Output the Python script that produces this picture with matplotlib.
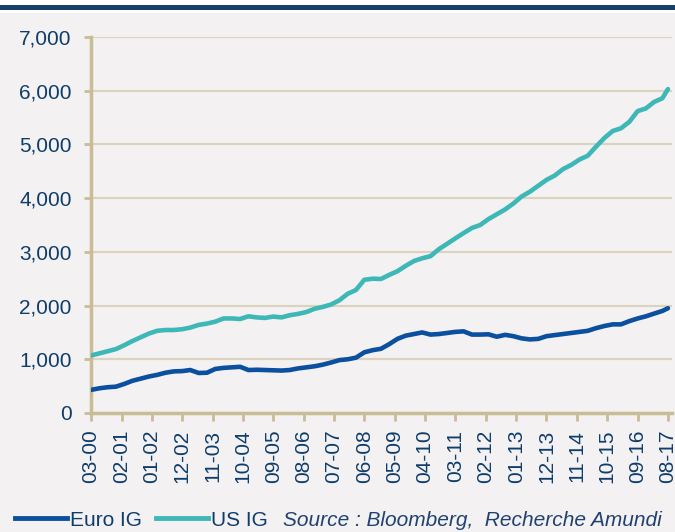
import matplotlib
matplotlib.use('Agg')
import matplotlib.pyplot as plt
from matplotlib.lines import Line2D
from matplotlib.patches import Rectangle
from matplotlib.ticker import FuncFormatter
import pandas as pd

# quarterly observations, last point is 08-2017
dates = list(pd.date_range('2000-03-01', '2017-06-01', freq='3MS')) + [pd.Timestamp('2017-08-01')]

euro_ig = [
    430, 460, 480, 490, 540, 600, 640, 680, 710, 750,
    775, 780, 800, 745, 750, 820, 840, 850, 860, 800,
    805, 800, 795, 790, 800, 830, 850, 870, 900, 940,
    985, 1000, 1030, 1130, 1170, 1195, 1280, 1380, 1440, 1470,
    1500, 1460, 1470, 1490, 1510, 1520, 1460, 1460, 1465, 1420,
    1455, 1430, 1390, 1370, 1380, 1430, 1450, 1470, 1490, 1510,
    1530, 1580, 1620, 1650, 1650, 1710, 1760, 1800, 1850, 1900,
    1950,
]
us_ig = [
    1070, 1110, 1150, 1190, 1260, 1340, 1410, 1480, 1530, 1545,
    1545, 1560, 1590, 1640, 1665, 1700, 1760, 1760, 1750, 1800,
    1780, 1770, 1795, 1780, 1820, 1845, 1880, 1940, 1975, 2020,
    2100, 2220, 2290, 2480, 2500, 2495, 2570, 2640, 2740, 2830,
    2880, 2920, 3050, 3150, 3250, 3350, 3445, 3500, 3610, 3700,
    3790, 3900, 4030, 4120, 4230, 4340, 4420, 4540, 4620, 4720,
    4790, 4960, 5120, 5250, 5300, 5420, 5620, 5670, 5790, 5860,
    6030,
]
tick_dates = pd.date_range('2000-03-01', periods=20, freq='11MS')
tick_labels = [d.strftime('%m-%y') for d in tick_dates]

BG = '#F3F1F1'
TAN = '#C9BD97'
GRID = '#DBD3BD'
TXT = '#0F3D6A'
EURO_C = '#0B4F9F'
US_C = '#3EB8B7'

plt.rcParams['font.family'] = ['Liberation Sans', 'DejaVu Sans']
plt.rcParams['font.size'] = 15

fig = plt.figure(figsize=(6.75, 5.32), dpi=100, facecolor=BG)
# white strip and navy rule at the top
fig.add_artist(Rectangle((0, 1 - 13 / 532), 1, 13 / 532, transform=fig.transFigure,
                         facecolor='white', edgecolor='none'))
fig.add_artist(Rectangle((0, 1 - 9.5 / 532), 1, 4.5 / 532, transform=fig.transFigure,
                         facecolor='#1B3F6B', edgecolor='none'))

ax = fig.add_axes([91 / 675, 1 - 413 / 532, 581 / 675, 376 / 532])
ax.set_facecolor(BG)

ax.plot(dates, euro_ig, color=EURO_C, lw=3.3, solid_capstyle='round', zorder=3)
ax.plot(dates, us_ig, color=US_C, lw=3.3, solid_capstyle='round', zorder=3)

ax.set_ylim(0, 7000)
ax.set_yticks(range(0, 7001, 1000))
ax.yaxis.set_major_formatter(FuncFormatter(lambda v, p: f'{v:,.0f}'))
ax.set_xlim(pd.Timestamp('2000-03-01'), pd.Timestamp('2017-09-15'))
ax.set_xticks(list(tick_dates))
ax.set_xticklabels(tick_labels, rotation=90)

ax.grid(axis='y', color=GRID, lw=1.5, zorder=0)
ax.set_axisbelow(True)
for s in ['top', 'right']:
    ax.spines[s].set_visible(False)
for s in ['left', 'bottom']:
    ax.spines[s].set_color(TAN)
    ax.spines[s].set_linewidth(2.5)
ax.tick_params(axis='y', colors=TAN, labelcolor=TXT, length=5, width=2, pad=9)
ax.tick_params(axis='x', colors=TAN, labelcolor=TXT, length=6, width=2, pad=6)

handles = [Line2D([], [], color=EURO_C, lw=3.5), Line2D([], [], color=US_C, lw=3.5)]
leg = fig.legend(handles, ['Euro IG', 'US IG'], loc='center left',
                 bbox_to_anchor=(15 / 675, 1 - 520 / 532), ncol=2, frameon=False,
                 borderpad=0, borderaxespad=0, handlelength=2.5, handletextpad=0.15,
                 columnspacing=0.65)
for t in leg.get_texts():
    t.set_color(TXT)
fig.text(283 / 675, 1 - 520 / 532, 'Source : Bloomberg,  Recherche Amundi',
         style='italic', color='#1F4272', va='center', ha='left', fontsize=15)

fig.savefig('out.png', dpi=100, facecolor=BG)
